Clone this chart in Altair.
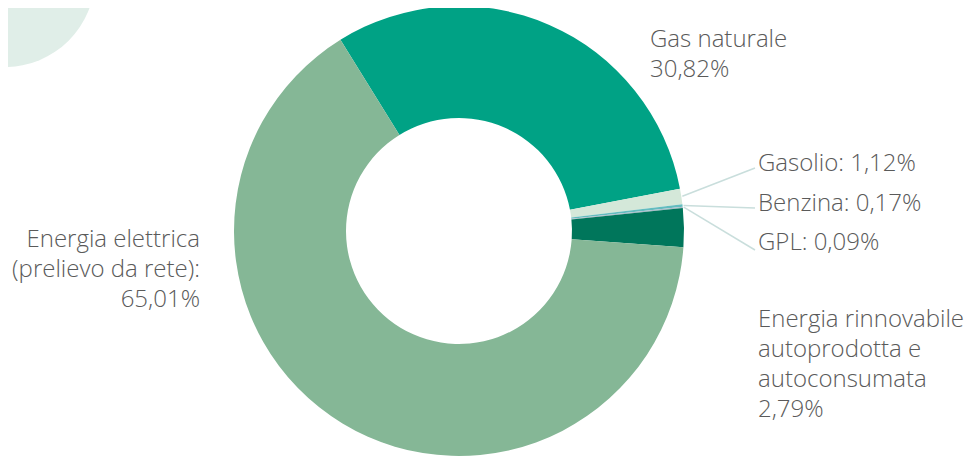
import math
import altair as alt
import pandas as pd

# ---- data ----
categories = ["Gas naturale", "Gasolio", "Benzina", "GPL",
              "Energia rinnovabile autoprodotta e autoconsumata",
              "Energia elettrica (prelievo da rete)"]
values = [30.82, 1.12, 0.17, 0.09, 2.79, 65.01]
colors = ["#00a285", "#d4e8d9", "#63bcbf", "#a9bcc9", "#00765b", "#85b796"]

label_texts = ["Gas naturale\n30,82%", "Gasolio: 1,12%", "Benzina: 0,17%", "GPL: 0,09%",
               "Energia rinnovabile\nautoprodotta e\nautoconsumata\n2,79%",
               "Energia elettrica\n(prelievo da rete):\n65,01%"]

# ---- layout (pixels, view coordinates) ----
CX, CY = 451, 223
R_OUT, R_IN = 225, 113
START_DEG = -31.8
label_x = [642, 750, 750, 750, 750, 192]
label_y = [39, 163, 203, 242, 319, 239]
leader_end = {"Gasolio": (747, 160), "Benzina": (747, 200), "GPL": (747, 242)}

FONT = "Open Sans"
FSIZE = 24
TXT = "#5a5a5a"

start = math.radians(START_DEG)

df = pd.DataFrame({"cat": categories, "val": values, "order": list(range(len(values)))})

arcs = alt.Chart(df).mark_arc(outerRadius=R_OUT, innerRadius=R_IN, stroke=None).encode(
    theta=alt.Theta("val:Q", stack=True,
                    scale=alt.Scale(range=[start, start + 2 * math.pi])),
    color=alt.Color("cat:N", scale=alt.Scale(domain=categories, range=colors), legend=None),
    order=alt.Order("order:Q"),
    x=alt.value(CX), y=alt.value(CY),
)

# leader lines: start at slice mid-angle on outer edge
total = sum(values)
rows = []
cum = 0.0
for c, v in zip(categories, values):
    mid = start + 2 * math.pi * (cum + v / 2) / total
    cum += v
    if c in leader_end:
        ex, ey = leader_end[c]
        rows.append({"x": CX + (R_OUT + 1) * math.sin(mid), "y": CY - (R_OUT + 1) * math.cos(mid),
                     "x2": ex, "y2": ey})
lines = alt.Chart(pd.DataFrame(rows)).mark_rule(color="#c9dedc", strokeWidth=1.5).encode(
    x=alt.X("x:Q", scale=None), y=alt.Y("y:Q", scale=None),
    x2="x2:Q", y2="y2:Q",
)

lab = pd.DataFrame({"t": label_texts, "x": label_x, "y": label_y,
                    "side": ["l", "l", "l", "l", "l", "r"]})

left_labels = alt.Chart(lab).transform_filter(alt.datum.side == "l").mark_text(
    align="left", baseline="alphabetic", font=FONT, fontWeight=300, fontSize=FSIZE,
    lineHeight=30, lineBreak="\n", color=TXT,
).encode(x=alt.X("x:Q", scale=None), y=alt.Y("y:Q", scale=None), text="t:N")

right_labels = alt.Chart(lab).transform_filter(alt.datum.side == "r").mark_text(
    align="right", baseline="alphabetic", font=FONT, fontWeight=300, fontSize=FSIZE,
    lineHeight=30, lineBreak="\n", color=TXT,
).encode(x=alt.X("x:Q", scale=None), y=alt.Y("y:Q", scale=None), text="t:N")

deco = alt.Chart(pd.DataFrame({"k": [1]})).mark_circle(
    color="#e0eee8", opacity=1, size=(2 * 90) ** 2
).encode(x=alt.value(-3), y=alt.value(-31))

chart = alt.layer(deco, arcs, lines, left_labels, right_labels).properties(
    width=956, height=450, padding=0, autosize="none"
).configure_view(stroke=None)

chart.save("out.html", embed_options={"renderer": "svg", "actions": False})
